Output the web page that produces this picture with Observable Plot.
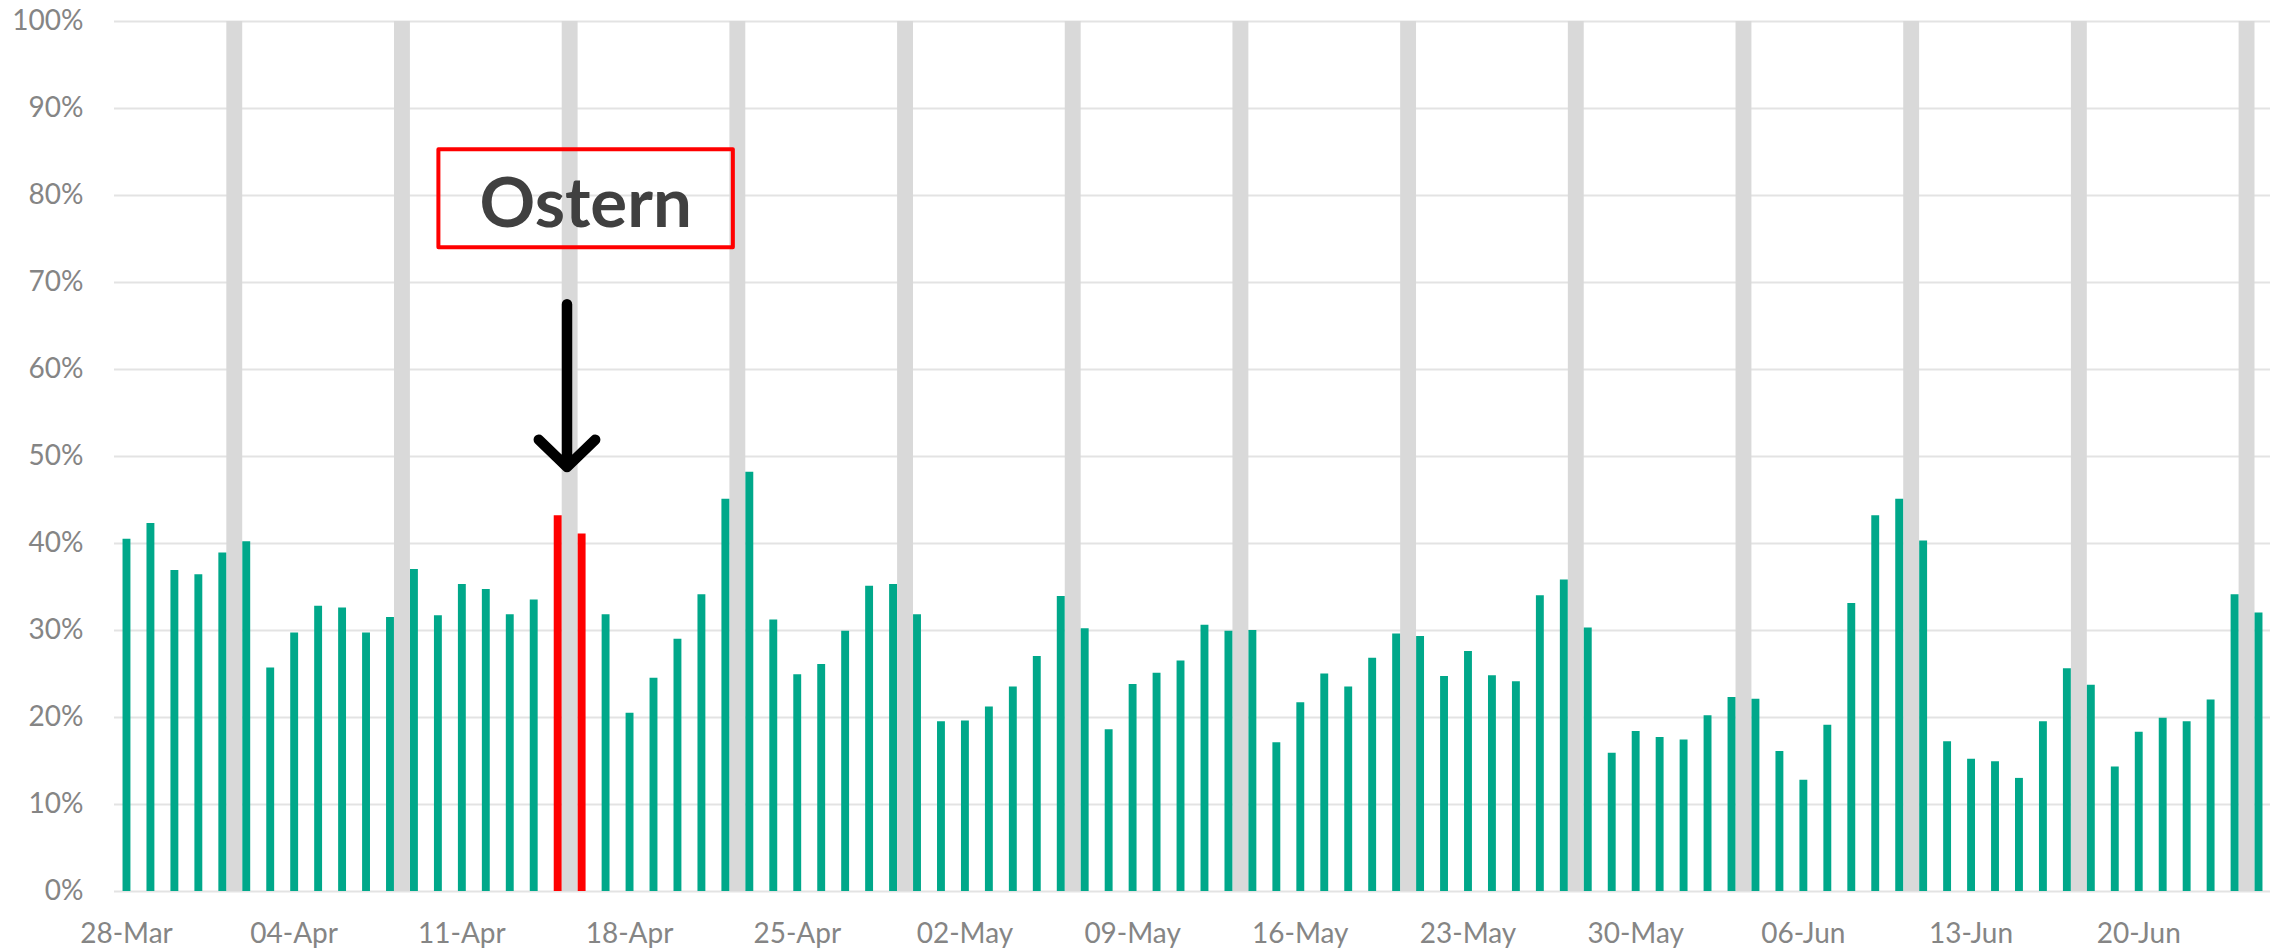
<!DOCTYPE html>
<html><head><meta charset="utf-8">
<script src="https://cdn.jsdelivr.net/npm/d3@7"></script>
<script src="https://cdn.jsdelivr.net/npm/@observablehq/plot@0.6"></script>
<style>html,body{margin:0;padding:0;background:#fff;} svg{display:block}</style>
</head><body><div id="chart"></div>
<script>
// ---- data ----
const startDate = "2023-03-28";
const shares = [
  0.405, 0.423, 0.369, 0.364, 0.389, 0.402, 0.257, 0.297, 0.328, 0.326,
  0.297, 0.315, 0.370, 0.317, 0.353, 0.347, 0.318, 0.335, 0.432, 0.411,
  0.318, 0.205, 0.245, 0.290, 0.341, 0.451, 0.482, 0.312, 0.249, 0.261,
  0.299, 0.351, 0.353, 0.318, 0.195, 0.196, 0.212, 0.235, 0.270, 0.339,
  0.302, 0.186, 0.238, 0.251, 0.265, 0.306, 0.299, 0.300, 0.171, 0.217,
  0.250, 0.235, 0.268, 0.296, 0.293, 0.247, 0.276, 0.248, 0.241, 0.340,
  0.358, 0.303, 0.159, 0.184, 0.177, 0.174, 0.202, 0.223, 0.221, 0.161,
  0.128, 0.191, 0.331, 0.432, 0.451, 0.403, 0.172, 0.152, 0.149, 0.130,
  0.195, 0.256, 0.237, 0.143, 0.183, 0.199, 0.195, 0.220, 0.341, 0.320
];
const holidayDates = ["2023-04-15", "2023-04-16"];
const weekendDates = ["2023-04-01","2023-04-08","2023-04-15","2023-04-22","2023-04-29",
  "2023-05-06","2023-05-13","2023-05-20","2023-05-27","2023-06-03","2023-06-10",
  "2023-06-17","2023-06-24"];
const tickDates = ["2023-03-28","2023-04-04","2023-04-11","2023-04-18","2023-04-25",
  "2023-05-02","2023-05-09","2023-05-16","2023-05-23","2023-05-30","2023-06-06",
  "2023-06-13","2023-06-20"];
const yTicks = [0, 0.1, 0.2, 0.3, 0.4, 0.5, 0.6, 0.7, 0.8, 0.9, 1.0];
const noteLabel = "Ostern";
const noteBoxX = ["2023-04-10T01:00Z", "2023-04-22T08:00Z"];
const noteBoxY = [0.740, 0.8525];
const noteTextX = "2023-04-16T04:00Z";
const noteTextY = 0.789;
const arrowX = "2023-04-15T09:20Z";
const arrowY = [0.675, 0.488];

// ---- build ----
const parse = (s) => new Date(s.length === 10 ? s + "T00:00Z" : s);
const start = parse(startDate);
const holidaySet = new Set(holidayDates);
const fmtKey = d3.utcFormat("%Y-%m-%d");
const rows = shares.map((v, i) => {
  const date = d3.utcDay.offset(start, i);
  return {date, value: v, holiday: holidaySet.has(fmtKey(date))};
});
const bands = weekendDates.map(s => ({x: d3.utcHour.offset(parse(s), 12)}));
const domainX = [d3.utcHour.offset(start, -12), d3.utcHour.offset(d3.utcDay.offset(start, shares.length - 1), 12)];

const chart = Plot.plot({
  width: 2285,
  height: 949,
  marginTop: 21,
  marginBottom: 58,
  marginLeft: 114,
  marginRight: 15,
  style: {fontFamily: "Lato, 'Open Sans', sans-serif", color: "#858585", background: "#fff"},
  x: {type: "utc", domain: domainX, label: null},
  y: {domain: [0, 1], label: null},
  marks: [
    Plot.gridY(yTicks, {stroke: "#e3e3e3", strokeOpacity: 1, strokeWidth: 2.2}),
    Plot.ruleX(bands, {x: "x", y1: 0, y2: 1, stroke: "#d9d9d9", strokeWidth: 15.9}),
    Plot.ruleX(rows, {x: "date", y1: 0, y2: "value", stroke: d => d.holiday ? "#ff0000" : "#00a88a", strokeWidth: 7.9}),
    Plot.axisY(yTicks, {label: null, tickSize: 0, tickPadding: 31, tickFormat: d3.format(".0%"), fontSize: 28, fill: "#858585"}),
    Plot.axisX(tickDates.map(parse), {label: null, tickSize: 0, tickPadding: 32, tickFormat: d3.utcFormat("%d-%b"), fontSize: 28, fill: "#858585"}),
    Plot.rect([0], {x1: () => parse(noteBoxX[0]), x2: () => parse(noteBoxX[1]), y1: () => noteBoxY[0], y2: () => noteBoxY[1],
      fill: "none", stroke: "#ff0000", strokeWidth: 4, strokeLinejoin: "round"}),
    Plot.text([noteLabel], {x: () => parse(noteTextX), y: () => noteTextY, text: d => d,
      fontSize: 69, fontWeight: "bold", fill: "#404040", textAnchor: "middle", lineAnchor: "middle"}),
    Plot.arrow([0], {x: () => parse(arrowX), y1: () => arrowY[0], y2: () => arrowY[1],
      stroke: "#000", strokeWidth: 10.5, headAngle: 92, headLength: 5.6, strokeLinecap: "round", strokeLinejoin: "round"})
  ]
});
document.getElementById("chart").appendChild(chart);
</script>
</body></html>
